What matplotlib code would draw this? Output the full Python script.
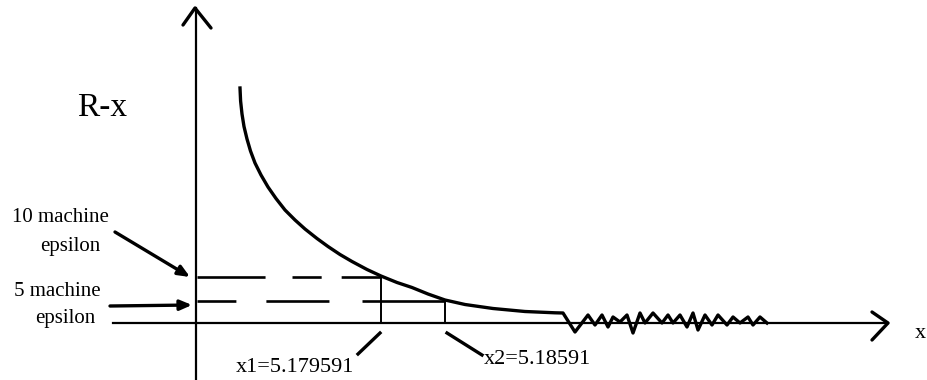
import matplotlib.pyplot as plt

plt.rcParams['font.family'] = ['Liberation Serif', 'DejaVu Serif']
plt.rcParams['lines.scale_dashes'] = False

# schematic coordinates: origin where the two axes cross, units ~ pixels
curve_x = [43, 43.6, 45, 47, 50, 53.5, 58, 64, 71, 79, 88, 98, 108, 120, 131, 143,
           155, 170, 184, 200, 215, 231, 248, 268, 296, 328, 358, 366]
curve_y = [235, 222, 209, 196.5, 184, 172, 160, 148, 136, 124.5, 113, 103, 94, 84.5,
           76.5, 68.5, 61.5, 53.5, 47, 40.5, 35.5, 29, 23, 18.5, 14.5, 11.5, 10.2, 10]

# round-off noise once the residual hits machine precision
noise_x = [378, 391, 398, 405, 411, 416, 423, 430, 436, 443, 448, 456, 465, 471, 476,
           483, 490, 496, 501, 508, 515, 521, 530, 536, 543, 551, 556, 563, 570]
noise_y = [-9, 8, -2, 8, -4, 6, 1, 8, -10, 10, 0, 10, 0, 8, 0,
           8, -4, 10, -7, 8, -2, 8, -2, 6, 0, 6, -2, 6, 0]

x1, x2 = 184, 248
eps10, eps5 = 46, 22

labels_10 = ["10 machine", "epsilon"]
labels_5 = ["5 machine", "epsilon"]
x_labels = ["x1=5.179591", "x2=5.18591"]

fig = plt.figure(figsize=(9.27, 3.8), dpi=100)
ax = fig.add_axes([0, 0, 1, 1])
ax.set_xlim(-197, 730)
ax.set_ylim(-57, 323)
ax.axis('off')

k = 'black'
# axes lines with open arrow heads
ax.plot([-1, -1], [-60, 315], color=k, lw=1.6)
ax.plot([-14, -2, 14], [298, 315, 295], color=k, lw=2.4, solid_capstyle='round')
ax.plot([-84, 691], [0, 0], color=k, lw=1.6)
ax.plot([675, 691, 675], [11, 0, -17], color=k, lw=2.4, solid_capstyle='round')

# main curve and noisy tail
ax.plot(curve_x + noise_x, curve_y + noise_y, color=k, lw=2.4)

# dashed threshold levels and drops to the x axis
ax.plot([0, x1], [eps10, eps10], color=k, lw=1.9, dashes=(49, 19.4, 21, 14.4, 60, 10))
ax.plot([0, x2], [eps5, eps5], color=k, lw=1.9, dashes=(28, 21.6, 45.4, 23.8, 60, 10))
ax.plot([x1, x1], [0, eps10], color=k, lw=1.4)
ax.plot([x2, x2], [0, eps5], color=k, lw=1.4)

# pointer arrows for the levels
arrow = dict(arrowstyle='-|>,head_length=0.7,head_width=0.3', color=k, lw=2.4,
             shrinkA=0, shrinkB=0)
ax.annotate('', xy=(-7, eps10), xytext=(-82, 91), arrowprops=arrow)
ax.annotate('', xy=(-5, 18), xytext=(-87, 17), arrowprops=arrow)

# leader lines for x1 / x2
ax.plot([161, 183], [-31, -10], color=k, lw=2.4)
ax.plot([250, 285], [-10, -32], color=k, lw=2.4)

fs = 15
ax.text(-137, 106, labels_10[0], ha='center', va='center', fontsize=fs)
ax.text(-127, 77, labels_10[1], ha='center', va='center', fontsize=fs)
ax.text(-140, 31, labels_5[0], ha='center', va='center', fontsize=fs)
ax.text(-132, 4, labels_5[1], ha='center', va='center', fontsize=fs)
ax.text(98, -44, x_labels[0], ha='center', va='center', fontsize=16)
ax.text(340, -36, x_labels[1], ha='center', va='center', fontsize=16)
ax.text(-95, 215, "R-x", ha='center', va='center', fontsize=24)
ax.text(718, -10, "x", ha='left', va='center', fontsize=16)

fig.savefig('out.png', dpi=100)
